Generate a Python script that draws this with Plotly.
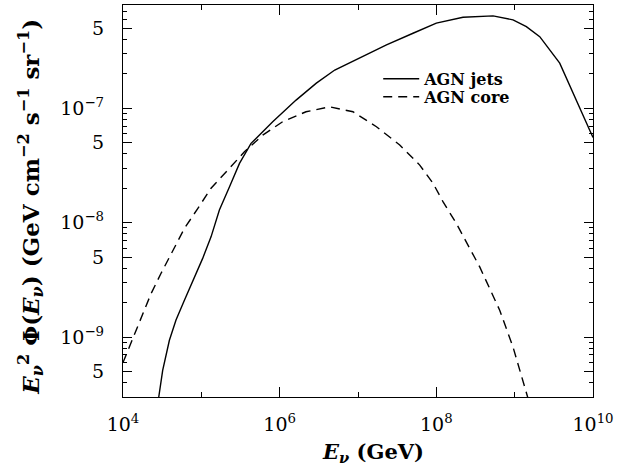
import plotly.graph_objects as go

# AGN jets (solid)
jets_E = [2.86e4, 3.21e4, 3.91e4, 4.75e4, 6.08e4, 7.76e4, 1.04e5, 1.33e5, 1.70e5,
          2.29e5, 3.07e5, 4.31e5, 5.51e5, 8.15e5, 1.62e6, 2.94e6, 5.05e6, 1.05e7,
          2.31e7, 5.04e7, 1.00e8, 2.19e8, 5.30e8, 9.53e8, 1.41e9, 2.09e9, 3.76e9,
          9.08e9, 1.0e10]
jets_F = [3.0e-10, 5.13e-10, 9.40e-10, 1.41e-9, 2.10e-9, 3.04e-9, 4.88e-9, 7.53e-9,
          1.29e-8, 2.06e-8, 3.30e-8, 4.94e-8, 5.83e-8, 7.64e-8, 1.18e-7, 1.66e-7,
          2.16e-7, 2.77e-7, 3.58e-7, 4.53e-7, 5.55e-7, 6.25e-7, 6.43e-7, 5.93e-7,
          5.18e-7, 4.23e-7, 2.48e-7, 6.44e-8, 5.56e-8]

# AGN core (dashed)
core_E = [1.0e4, 1.33e4, 1.70e4, 2.28e4, 3.05e4, 4.31e4, 6.08e4, 8.99e4, 1.33e5,
          2.17e5, 3.55e5, 6.08e5, 1.09e6, 2.17e6, 4.36e6, 8.63e6, 1.72e7, 3.41e7,
          6.14e7, 9.08e7, 1.22e8, 1.80e8, 3.58e8, 6.44e8, 9.53e8, 1.48e9]
core_F = [6.0e-10, 9.72e-10, 1.50e-9, 2.40e-9, 3.60e-9, 5.75e-9, 8.91e-9, 1.33e-8,
          2.00e-8, 2.88e-8, 4.17e-8, 5.83e-8, 7.64e-8, 9.33e-8, 1.03e-7, 9.33e-8,
          6.90e-8, 4.78e-8, 3.19e-8, 2.21e-8, 1.52e-8, 9.86e-9, 4.11e-9, 1.72e-9,
          8.20e-10, 2.92e-10]

x_major = [1e4, 1e6, 1e8, 1e10]
x_major_text = ["10<sup>4</sup>", "10<sup>6</sup>", "10<sup>8</sup>", "10<sup>10</sup>"]
x_minor = [1e5, 1e7, 1e9]
y_major = [5e-10, 1e-9, 5e-9, 1e-8, 5e-8, 1e-7, 5e-7]
y_major_text = ["5", "10<sup>−9</sup>", "5", "10<sup>−8</sup>", "5", "10<sup>−7</sup>", "5"]
y_minor = [m * 10.0 ** e for e in (-10, -9, -8, -7) for m in (2, 3, 4, 6, 7, 8, 9)]

FONT = "DejaVu Serif"

fig = go.Figure()
fig.add_trace(go.Scatter(x=jets_E, y=jets_F, mode="lines", name="<b>AGN jets</b>",
                         line=dict(color="black", width=1.4), legend="legend",
                         showlegend=True))
fig.add_trace(go.Scatter(x=core_E, y=core_F, mode="lines", name="<b>AGN core</b>",
                         line=dict(color="black", width=1.4, dash="9px,6px"),
                         legend="legend2", showlegend=True))

axis_common = dict(showline=True, linecolor="black", linewidth=1.3, mirror="ticks",
                   ticks="inside", tickcolor="black", tickwidth=1.1,
                   showgrid=False, zeroline=False)

fig.update_xaxes(type="log", range=[4, 10], tickmode="array", tickvals=x_major,
                 ticktext=x_major_text, ticklen=10,
                 minor=dict(tickmode="array", tickvals=x_minor, ticks="inside",
                            ticklen=5, tickcolor="black", tickwidth=1.1, showgrid=False),
                 tickfont=dict(family=FONT, size=19, color="black"),
                 ticklabelstandoff=10,
                 **axis_common)
fig.update_yaxes(type="log", range=[-9.523, -6.097], tickmode="array", tickvals=y_major,
                 ticktext=y_major_text, ticklen=9,
                 minor=dict(tickmode="array", tickvals=y_minor, ticks="inside",
                            ticklen=4, tickcolor="black", tickwidth=1.1, showgrid=False),
                 tickfont=dict(family=FONT, size=19, color="black"),
                 ticklabelstandoff=14,
                 **axis_common)

# axis titles
fig.add_annotation(text="<b><i>E</i><sub><i>ν</i></sub> (GeV)</b>",
                   xref="paper", yref="paper", x=0.531, y=-0.141,
                   xanchor="center", yanchor="middle", showarrow=False,
                   font=dict(family=FONT, size=21, color="black"))
fig.add_annotation(text="<b><i>E</i><sub><i>ν</i></sub><sup>2</sup> Φ(<i>E</i><sub><i>ν</i></sub>) "
                        "(GeV cm<sup>−2</sup> s<sup>−1</sup> sr<sup>−1</sup>)</b>",
                   xref="paper", yref="paper", x=-0.196, y=0.485, textangle=-90,
                   xanchor="center", yanchor="middle", showarrow=False,
                   font=dict(family=FONT, size=23, color="black"))

leg_common = dict(xanchor="left", yanchor="top", bgcolor="rgba(0,0,0,0)", borderwidth=0,
                  font=dict(family=FONT, size=16, color="black"), itemwidth=36,
                  visible=True)

fig.update_layout(
    width=633, height=466,
    margin=dict(l=123, r=40, t=5, b=69),
    paper_bgcolor="white", plot_bgcolor="white",
    font=dict(family=FONT, color="black"),
    showlegend=True,
    legend=dict(x=0.543, y=0.855, **leg_common),
    legend2=dict(x=0.543, y=0.809, **leg_common),
)

fig.write_html("out.html")
